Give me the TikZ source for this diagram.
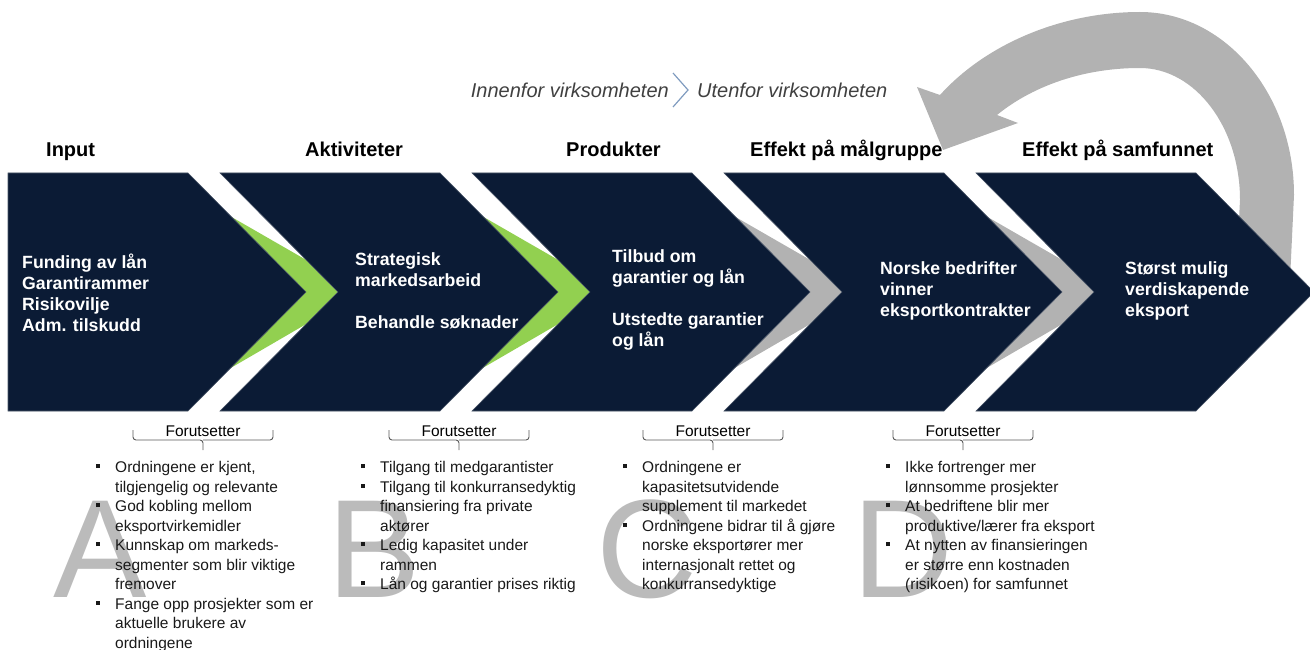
\documentclass[tikz,border=0pt]{standalone}
\usepackage{fontspec}
\setmainfont{Liberation Sans}
\usetikzlibrary{positioning}
\definecolor{navy}{HTML}{0B1B35}
\definecolor{lime}{HTML}{92D050}
\definecolor{arcgray}{HTML}{B2B2B2}
\definecolor{lettergray}{HTML}{BBBBBB}
\definecolor{markblue}{HTML}{7F9BBF}
\newcommand{\sqb}{\rule[4.5pt]{4pt}{4pt}}
\newcommand{\itm}{\makebox[19pt][l]{\sqb}}
\newcommand{\nxt}{\makebox[19pt]{}}

\begin{document}
\begin{tikzpicture}[x=1pt,y=-1pt,
  head/.style={anchor=base west,inner sep=0,font=\fontsize{20}{24}\selectfont\bfseries},
  toptext/.style={inner sep=0,text=black!75,font=\fontsize{20}{24}\selectfont\itshape},
  boxtext/.style={anchor=base west,inner sep=0,text=white,font=\fontsize{17.7}{21}\selectfont\bfseries},
  cond/.style={anchor=base,inner sep=0,font=\fontsize{15.5}{19.5}\selectfont},
  list/.style={anchor=base west,inner sep=0,text=black!90,font=\fontsize{15.5}{19.5}\selectfont},
  bigletter/.style={anchor=base west,inner sep=0,text=lettergray,font=\fontsize{140}{140}\selectfont}]
\useasboundingbox (0,0) rectangle (1310,650);
\clip (0,0) rectangle (1310,650);

% big letters behind the lists
\node[bigletter] (lA) at (53,597) {A};
\node[bigletter] (lB) at (327,597) {B};
\node[bigletter] (lC) at (596,597) {C};
\node[bigletter] (lD) at (852,597) {D};

% feedback arrow
\fill[arcgray] (1290,280) -- (1294,195) .. controls (1294,94) and (1225,12) .. (1140,12)
  .. controls (1060,12) and (985,45) .. (940,95) -- (917,87) -- (943,150) -- (1018,123)
  -- (997,115) .. controls (1030,88) and (1080,68) .. (1140,68)
  .. controls (1195,68) and (1240,127) .. (1240,200) -- (1236,280) -- cycle;

% slivers between the chevrons
\foreach \i/\c in {0/lime,1/lime,2/arcgray,3/arcgray}{
\pgfmathsetmacro\r{188+252*\i}
\fill[\c] (\r+43.6,217) -- (\r+118.3,260) -- (\r+150,292) -- (\r+118.3,324) -- (\r+42.7,368) -- (\r+60,292) -- cycle;
}

% chevrons
\foreach \i in {0,...,4}{
\pgfmathsetmacro\r{188+252*\i}
\pgfmathsetmacro\l{\i==0 ? 8 : 188+252*(\i-1)+32}
\pgfmathsetmacro\n{\i==0 ? 8 : \l+118}
\fill[navy,draw=navy!75!white,line width=0.6] (\l,173) -- (\r,173) -- (\r+118,292) -- (\r,411) -- (\l,411) -- (\n,292) -- cycle;
}

\node[toptext,anchor=base east] (inn) at (669,98) {Innenfor virksomheten};
\node[toptext,anchor=base west] (ut) at (697,98) {Utenfor virksomheten};
\coordinate (m0) at (673,73);
\coordinate (m1) at (688,90);
\coordinate (m2) at (673,107);
\draw[markblue,line width=1.2] (m0) -- (m1) -- (m2);

\node[head] (h0) at (46,157) {Input};
\node[head] (h1) at (305,157) {Aktiviteter};
\node[head] (h2) at (566,157) {Produkter};
\node[head] (h3) at (750,157) {Effekt på målgruppe};
\node[head] (h4) at (1022,157) {Effekt på samfunnet};

\node[boxtext] (t0) at (22,268) {\begin{tabular}[t]{@{}l@{}}Funding av lån\\Garantirammer\\Risikovilje\\Adm. tilskudd\end{tabular}};
\node[boxtext] (t1) at (355,265) {\begin{tabular}[t]{@{}l@{}}Strategisk\\markedsarbeid\\ \\Behandle søknader\end{tabular}};
\node[boxtext] (t2) at (612,262) {\begin{tabular}[t]{@{}l@{}}Tilbud om\\garantier og lån\\ \\Utstedte garantier\\og lån\end{tabular}};
\node[boxtext] (t3) at (880,274) {\begin{tabular}[t]{@{}l@{}}Norske bedrifter\\vinner\\eksportkontrakter\end{tabular}};
\node[boxtext] (t4) at (1125,274) {\begin{tabular}[t]{@{}l@{}}Størst mulig\\verdiskapende\\eksport\end{tabular}};

% Forutsetter with brackets
\foreach \cx [count=\k from 0] in {203,459,713,963}{
\node[cond] (f\k) at (\cx,436) {Forutsetter};
\draw[black!65,line width=0.9,rounded corners=3] (\cx-70,430) |- (\cx,440) -- (\cx,450);
\draw[black!65,line width=0.9,rounded corners=3] (\cx+70,430) |- (\cx,440);
}

\node[list] (b0) at (96,472.5) {\begin{tabular}[t]{@{}l@{}}
\itm Ordningene er kjent,\\ \nxt tilgjengelig og relevante\\
\itm God kobling mellom\\ \nxt eksportvirkemidler\\
\itm Kunnskap om markeds-\\ \nxt segmenter som blir viktige\\ \nxt fremover\\
\itm Fange opp prosjekter som er\\ \nxt aktuelle brukere av\\ \nxt ordningene\end{tabular}};
\node[list] (b1) at (361,472.5) {\begin{tabular}[t]{@{}l@{}}
\itm Tilgang til medgarantister\\
\itm Tilgang til konkurransedyktig\\ \nxt finansiering fra private\\ \nxt aktører\\
\itm Ledig kapasitet under\\ \nxt rammen\\
\itm Lån og garantier prises riktig\end{tabular}};
\node[list] (b2) at (623,472.5) {\begin{tabular}[t]{@{}l@{}}
\itm Ordningene er\\ \nxt kapasitetsutvidende\\ \nxt supplement til markedet\\
\itm Ordningene bidrar til å gjøre\\ \nxt norske eksportører mer\\ \nxt internasjonalt rettet og\\ \nxt konkurransedyktige\end{tabular}};
\node[list] (b3) at (886,472.5) {\begin{tabular}[t]{@{}l@{}}
\itm Ikke fortrenger mer\\ \nxt lønnsomme prosjekter\\
\itm At bedriftene blir mer\\ \nxt produktive/lærer fra eksport\\
\itm At nytten av finansieringen\\ \nxt er større enn kostnaden\\ \nxt (risikoen) for samfunnet\end{tabular}};
\end{tikzpicture}
\end{document}
